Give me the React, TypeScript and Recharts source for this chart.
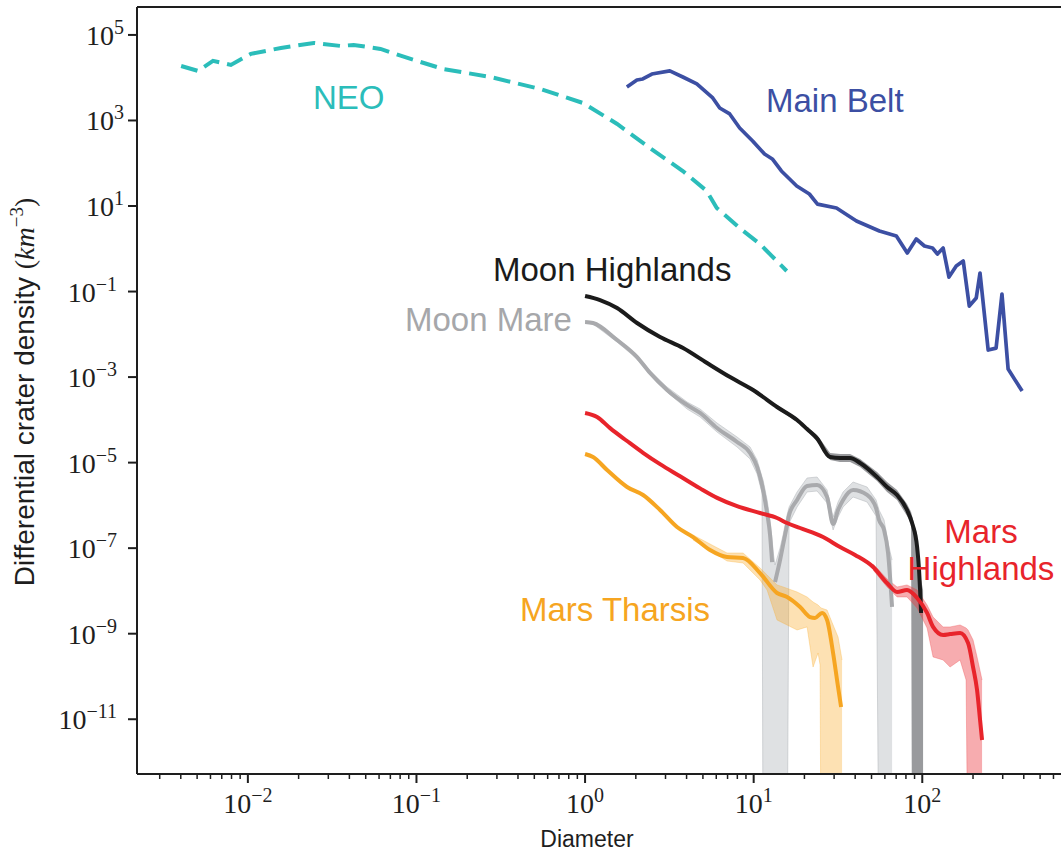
import { ComposedChart, Line, Area, XAxis, YAxis, ReferenceLine } from "recharts";

// lower band edge that is zero in the source, i.e. drops off the bottom of the plot
const BELOW = 1e-15;

// NEO (dashed)
const neoD = [0.00402, 0.00506, 0.00621, 0.00793, 0.0104, 0.0157, 0.0246, 0.0355, 0.0424, 0.0612, 0.0885, 0.144, 0.274, 0.542, 0.973, 1.55, 2.42, 3.8, 5.27, 6.04, 8.26, 10.9, 15.7];
const neoY = [18800, 14400, 24700, 19900, 36000, 49700, 65000, 55300, 58400, 47100, 29000, 16000, 10400, 5460, 2560, 828, 228, 65.9, 22.4, 8.98, 3.05, 1.29, 0.302];

// Main Belt
const beltD = [1.77, 2.03, 2.2, 2.49, 3.18, 3.8, 4.6, 5.72, 6.29, 7.21, 8.26, 9.86, 11.6, 12.9, 14.6, 18.0, 21.4, 23.9, 31.0, 40.7, 55.7, 70.2, 81.5, 92.1, 103, 115, 123, 133, 144, 159, 175, 190, 209, 220, 246, 274, 297, 323, 391];
const beltY = [6080, 8850, 9350, 12200, 14400, 10400, 7150, 3360, 1960, 1420, 668, 331, 164, 126, 65.9, 29.4, 19.1, 11.1, 8.98, 4.46, 2.6, 1.99, 0.796, 1.69, 1.16, 1.04, 0.754, 1.04, 0.218, 0.394, 0.517, 0.0458, 0.0705, 0.271, 0.00428, 0.00476, 0.0875, 0.00154, 0.000471];

// Moon Highlands
const mhD = [1.0, 1.227, 1.548, 2.034, 2.785, 3.814, 5.29, 7.24, 9.92, 13.76, 18.09, 20.74, 23.77, 28.39, 32.54, 37.31, 42.77, 53.93, 61.83, 70.88, 81.24, 87.0, 93.2, 95.7, 98.4];
const mhY = [7.87e-2, 6.34e-2, 4.12e-2, 1.84e-2, 8.65e-3, 4.79e-3, 2.13e-3, 1.0e-3, 4.99e-4, 2.0e-4, 9.91e-5, 6.1e-5, 3.7e-5, 1.35e-5, 1.28e-5, 1.28e-5, 9.8e-6, 4.61e-6, 2.69e-6, 1.75e-6, 7.8e-7, 3.87e-7, 1.06e-7, 3.08e-8, 3.05e-9];
const mhBandD = [13.76, 18.09, 20.74, 23.77, 28.39, 32.54, 37.31, 42.77, 53.93, 61.83, 70.88, 81.24, 85.82, 87.0, 93.2, 95.7, 98.4, 101.1];
const mhHi = [2.22e-4, 1.1e-4, 6.9e-5, 4.4e-5, 1.68e-5, 1.59e-5, 1.59e-5, 1.22e-5, 6.04e-6, 3.52e-6, 2.29e-6, 1.08e-6, 7.0e-7, 5.65e-7, 2.03e-7, 6.92e-8, 1.8e-8, 1.05e-8];
const mhLo = [1.79e-4, 8.91e-5, 5.4e-5, 3.1e-5, 1.15e-5, 1.03e-5, 1.03e-5, 7.91e-6, 3.72e-6, 2.06e-6, 1.34e-6, 5.65e-7, 3.67e-7, BELOW, BELOW, BELOW, BELOW, BELOW];

// Moon Mare
const mmD = [1.0, 1.115, 1.548, 2.034, 2.43, 3.064, 4.03, 4.81, 6.06, 7.97, 9.52, 10.48, 11.21, 11.37, 12.01, 12.51, 12.86, 13.12, 13.39, 14.34, 14.94, 15.78, 16.22, 18.09, 20.74, 23.77, 27.25, 29.58, 31.66, 33.91, 38.87, 47.06, 53.2, 55.4, 59.35, 62.68, 66.2];
const mmY = [1.94e-2, 1.84e-2, 7.36e-3, 2.94e-3, 1.25e-3, 4.99e-4, 2.22e-4, 1.45e-4, 6.44e-5, 3.03e-5, 1.68e-5, 7.91e-6, 3.0e-6, 2.29e-6, 6.64e-7, 2.03e-7, 4.74e-8, null, 1.62e-8, 5.28e-8, 1.19e-7, 3.48e-7, 5.96e-7, 1.34e-6, 2.84e-6, 3.0e-6, 1.57e-6, 3.67e-7, 7.8e-7, 1.34e-6, 2.29e-6, 1.75e-6, 8.69e-7, 4.55e-7, 2.66e-7, 7.71e-8, 4.21e-9];
const mmHi = [2.05e-2, 1.94e-2, 8.2e-3, 3.28e-3, 1.39e-3, 5.86e-4, 2.61e-4, 1.79e-4, 8.44e-5, 3.97e-5, 2.32e-5, 1.15e-5, 4.61e-6, 3.93e-6, 1.34e-6, 4.55e-7, 1.55e-7, 6.92e-8, 4.04e-8, 1.01e-7, 2.03e-7, 5.96e-7, 9.16e-7, 2.06e-6, 4.37e-6, 4.61e-6, 2.29e-6, 5.35e-7, 1.2e-6, 2.06e-6, 3.52e-6, 2.69e-6, 1.34e-6, 7.8e-7, 4.55e-7, 1.32e-7, 5.28e-8];
const mmLo = [1.84e-2, 1.74e-2, 6.61e-3, 2.65e-3, 1.12e-3, 4.48e-4, 1.79e-4, 1.17e-4, 5.2e-5, 2.32e-5, 1.22e-5, 5.42e-6, 1.95e-6, BELOW, BELOW, BELOW, BELOW, BELOW, BELOW, BELOW, BELOW, BELOW, 3.87e-7, 9.16e-7, 2.06e-6, 2.17e-6, 1.14e-6, 2.66e-7, 5.35e-7, 9.16e-7, 1.57e-6, 1.2e-6, 5.65e-7, BELOW, BELOW, BELOW, BELOW];

// Mars Highlands
const marsHD = [1.0, 1.178, 1.407, 1.775, 2.208, 2.785, 3.66, 4.81, 6.07, 7.97, 10.91, 13.76, 15.78, 18.85, 25.8, 32.54, 39.94, 51.1, 61.8, 70.9, 81.2, 93.2, 106.8, 115.9, 132.9, 146.2, 167.6, 186.9, 200.1, 211.3, 220.2, 226.3];
const marsHY = [1.45e-4, 1.17e-4, 6.4e-5, 3.2e-5, 1.7e-5, 9.2e-6, 4.8e-6, 2.5e-6, 1.5e-6, 9.6e-7, 6.64e-7, 5.07e-7, 3.87e-7, 2.96e-7, 1.82e-7, 1.06e-7, 6.92e-8, 3.62e-8, 1.53e-8, 9.44e-9, 1.05e-8, 6.84e-9, 3.05e-9, 1.44e-9, 9.33e-10, 9.8e-10, 1.04e-9, 6.06e-10, 1.66e-10, 4.82e-11, 9.6e-12, 3.27e-12];
const marsHBandD = [51.1, 61.8, 70.9, 81.2, 93.2, 106.8, 115.9, 132.9, 146.2, 167.6, 181.9, 186.9, 200.1, 211.3, 226.3];
const marsHHi = [4.27e-8, 1.9e-8, 1.24e-8, 1.38e-8, 1.05e-8, 4.69e-9, 2.45e-9, 1.44e-9, 1.44e-9, 1.6e-9, 1.36e-9, 1.22e-9, 7.13e-10, 2.85e-10, 8.26e-11];
const marsHLo = [3.08e-8, 1.24e-8, 7.21e-9, 7.21e-9, 3.99e-9, 1.36e-9, 2.85e-10, 2.43e-10, 1.66e-10, 2.43e-10, 8.26e-11, BELOW, BELOW, BELOW, BELOW];

// Mars Tharsis
const tharD = [1.0, 1.115, 1.351, 1.775, 2.208, 2.785, 3.51, 4.37, 5.51, 6.95, 8.65, 10.91, 13.76, 15.78, 18.85, 21.6, 23.1, 25.45, 27.25, 29.58, 31.66, 33.0];
const tharY = [1.59e-5, 1.35e-5, 6.71e-6, 2.69e-6, 1.75e-6, 7.8e-7, 3.13e-7, 1.82e-7, 9.06e-8, 6.21e-8, 5.89e-8, 2.62e-8, 8.95e-9, 7.21e-9, 4.21e-9, 2.45e-9, 2.33e-9, 3.05e-9, 2.09e-9, 3.54e-10, 5.67e-11, 1.93e-11];
const tharBandD = [4.37, 6.95, 8.65, 10.91, 12.01, 13.76, 14.94, 18.09, 20.74, 22.5, 24.1, 24.77, 25.11, 27.25, 29.58, 31.66, 33.44];
const tharHi = [2.03e-7, 7.71e-8, 7.71e-8, 3.44e-8, 2.36e-8, 1.38e-8, 1.24e-8, 9.44e-9, 7.21e-9, 5.51e-9, 4.69e-9, 4.21e-9, 3.99e-9, 3.58e-9, 1.6e-9, 8.37e-10, 2.43e-10];
const tharLo = [1.55e-7, 5.01e-8, 4.5e-8, 1.8e-8, 1.05e-8, 2.09e-9, 1.78e-9, 1.22e-9, 1.44e-9, 1.66e-10, 3.54e-10, 1.85e-10, BELOW, BELOW, BELOW, BELOW, BELOW];

// axes
const X_MIN = 2.2e-3;
const X_MAX = 665;
const Y_MIN = 5.24e-13;
const Y_MAX = 4.5e5;
const xMajor = [1e-2, 1e-1, 1, 10, 100];
const xMinorMult = [2, 3, 4, 5, 6, 7, 8, 9];
const xDecades = [1e-3, 1e-2, 1e-1, 1, 10, 100];
const yMajor = [1e-11, 1e-9, 1e-7, 1e-5, 1e-3, 1e-1, 1e1, 1e3, 1e5];

const xMinor = xDecades
  .flatMap((dec) => xMinorMult.map((m) => m * dec))
  .filter((v) => v >= X_MIN && v <= X_MAX);
const xTicks = [...xMajor, ...xMinor].sort((a, b) => a - b);

const toLine = (d: number[], y: (number | null)[]) => d.map((v, i) => ({ d: v, y: y[i] }));
const toBand = (d: number[], lo: number[], hi: number[]) =>
  d.map((v, i) => ({ d: v, band: [lo[i], hi[i]] }));

const INK = "#1e1e1e";
const SERIF = "'Liberation Serif', 'DejaVu Serif', serif";
const SANS = "'Liberation Sans', Arial, sans-serif";

const expText = (v: number) => {
  const e = Math.round(Math.log10(v));
  return e < 0 ? "\u2212" + Math.abs(e) : String(e);
};

function XTick(props: any) {
  const { x, y, payload } = props;
  const v = payload.value;
  const lg = Math.log10(v);
  const major = Math.abs(lg - Math.round(lg)) < 1e-6;
  return (
    <g>
      <line x1={x} x2={x} y1={y} y2={y + (major ? 9 : 5)} stroke={INK} strokeWidth={major ? 2 : 1.5} />
      {major && (
        <text x={x} y={y + 39} textAnchor="middle" fontFamily={SERIF} fill={INK}>
          <tspan fontSize={28}>10</tspan>
          <tspan fontSize={20} dy={-11}>{expText(v)}</tspan>
        </text>
      )}
    </g>
  );
}

function YTick(props: any) {
  const { x, y, payload } = props;
  const v = payload.value;
  const neg = v < 1;
  return (
    <g>
      <line x1={x - 9} x2={x} y1={y} y2={y} stroke={INK} strokeWidth={2} />
      <text x={x - (neg ? 20 : 13)} y={y + 10} textAnchor="end" fontFamily={SERIF} fill={INK}>
        <tspan fontSize={28}>10</tspan>
        <tspan fontSize={20} dy={-11}>{expText(v)}</tspan>
      </text>
    </g>
  );
}

export default function App() {
  return (
    <div style={{ position: "absolute", left: 0, top: 0, width: 1061, height: 859, background: "#fff" }}>
      <ComposedChart width={1061} height={859} margin={{ top: 7, right: 0, bottom: 0, left: 0 }}>
        <XAxis
          dataKey="d"
          type="number"
          scale="log"
          domain={[X_MIN, X_MAX]}
          allowDataOverflow
          ticks={xTicks}
          interval={0}
          tick={<XTick />}
          tickLine={false}
          tickSize={0}
          tickMargin={0}
          axisLine={{ stroke: INK, strokeWidth: 2 }}
          height={85}
        />
        <YAxis
          type="number"
          scale="log"
          domain={[Y_MIN, Y_MAX]}
          allowDataOverflow
          ticks={yMajor}
          interval={0}
          tick={<YTick />}
          tickLine={false}
          tickSize={0}
          tickMargin={0}
          axisLine={{ stroke: INK, strokeWidth: 2 }}
          width={137}
        />
        <ReferenceLine y={Y_MAX} stroke={INK} strokeWidth={2} />

        <Area data={toBand(mmD, mmLo, mmHi)} dataKey="band" type="linear" fill="#b8bcc2" fillOpacity={0.45} stroke="#b0b3b8" strokeOpacity={0.5} strokeWidth={1} isAnimationActive={false} />
        <Area data={toBand(mhBandD, mhLo, mhHi)} dataKey="band" type="linear" fill="#33363b" fillOpacity={0.5} stroke="none" isAnimationActive={false} />
        <Area data={toBand(tharBandD, tharLo, tharHi)} dataKey="band" type="linear" fill="#f9a825" fillOpacity={0.35} stroke="#f9a825" strokeOpacity={0.3} strokeWidth={1} isAnimationActive={false} />
        <Area data={toBand(marsHBandD, marsHLo, marsHHi)} dataKey="band" type="linear" fill="#ec3a40" fillOpacity={0.42} stroke="#ec3a40" strokeOpacity={0.3} strokeWidth={1} isAnimationActive={false} />

        <Line data={toLine(mmD, mmY)} dataKey="y" type="monotoneX" stroke="#a9aaad" strokeWidth={4} dot={false} isAnimationActive={false} />
        <Line data={toLine(mhD, mhY)} dataKey="y" type="monotoneX" stroke="#1b1b1b" strokeWidth={4} dot={false} isAnimationActive={false} />
        <Line data={toLine(marsHD, marsHY)} dataKey="y" type="monotoneX" stroke="#e8242b" strokeWidth={4} dot={false} isAnimationActive={false} />
        <Line data={toLine(tharD, tharY)} dataKey="y" type="monotoneX" stroke="#f6a521" strokeWidth={4} dot={false} isAnimationActive={false} />
        <Line data={toLine(neoD, neoY)} dataKey="y" type="linear" stroke="#2bbdba" strokeWidth={4} strokeDasharray="17 8" dot={false} isAnimationActive={false} />
        <Line data={toLine(beltD, beltY)} dataKey="y" type="linear" stroke="#3c4fa3" strokeWidth={3.7} strokeLinejoin="round" dot={false} isAnimationActive={false} />
      </ComposedChart>

      <svg width={1061} height={859} style={{ position: "absolute", left: 0, top: 0, pointerEvents: "none" }}>
        <g fontFamily={SANS} fontSize={33}>
          <text x={313} y={109} fill="#2bbdba">NEO</text>
          <text x={766} y={112} fill="#3c4fa3">Main Belt</text>
          <text x={493} y={281} fill="#1b1b1b">Moon Highlands</text>
          <text x={405} y={331} fill="#a6a7aa">Moon Mare</text>
          <text x={981} y={543} fill="#e8242b" textAnchor="middle">Mars</text>
          <text x={981} y={580} fill="#e8242b" textAnchor="middle">Highlands</text>
          <text x={520} y={621} fill="#f6a521">Mars Tharsis</text>
        </g>
        <text x={587} y={847} textAnchor="middle" fontFamily={SANS} fontSize={23} fill={INK}>Diameter</text>
        <text transform="translate(34,392) rotate(-90)" textAnchor="middle" fill={INK} fontSize={28}>
          <tspan fontFamily={SANS}>Differential crater density </tspan>
          <tspan fontFamily={SERIF}>(</tspan>
          <tspan fontFamily={SERIF} fontStyle="italic">km</tspan>
          <tspan fontFamily={SERIF} fontSize={19} dy={-11}>{"\u22123"}</tspan>
          <tspan fontFamily={SERIF} dy={11}>)</tspan>
        </text>
      </svg>
    </div>
  );
}
